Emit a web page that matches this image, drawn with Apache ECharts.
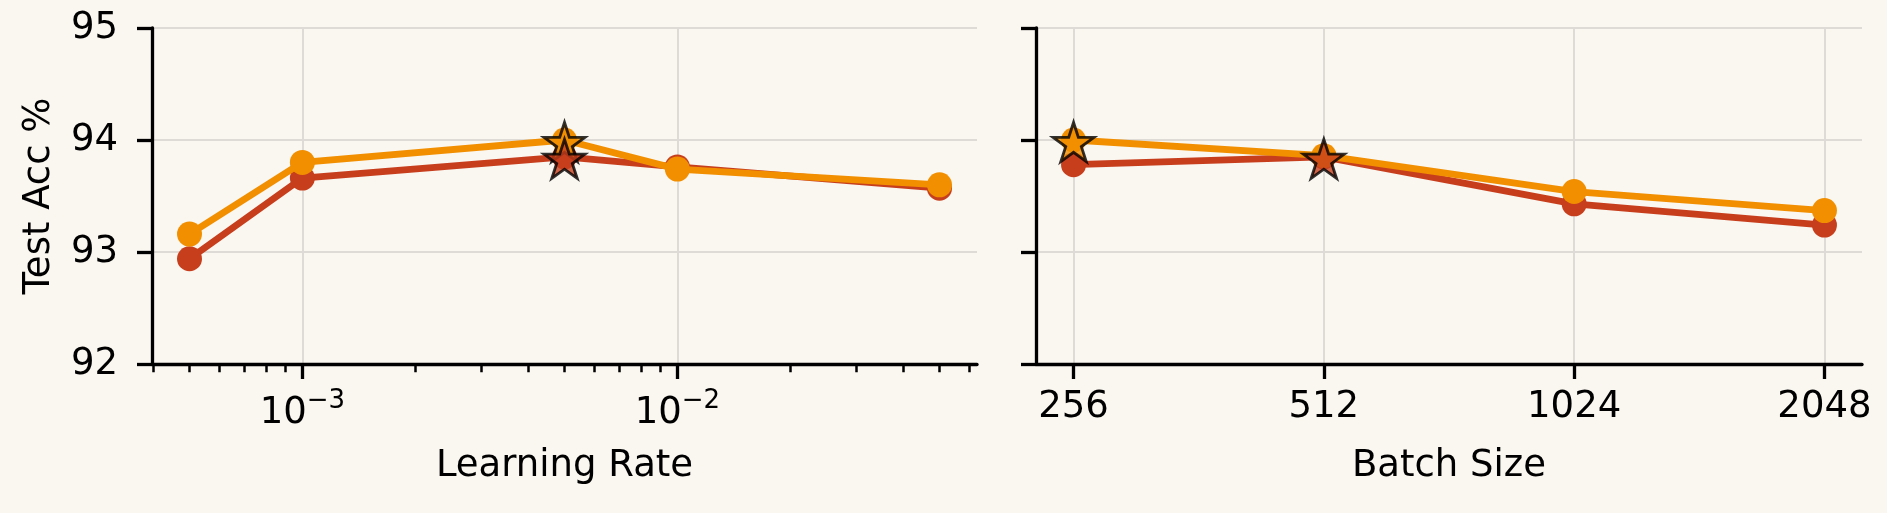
<!DOCTYPE html>
<html>
<head>
<meta charset="utf-8">
<script src="https://cdn.jsdelivr.net/npm/echarts@6/dist/echarts.min.js"></script>
<style>
  html, body { margin: 0; padding: 0; background: #faf6f0; }
  #chart { width: 1887px; height: 513px; }
</style>
</head>
<body>
<div id="chart"></div>
<script>
// learning-rate sweep
const lrValues = [5e-4, 1e-3, 5e-3, 1e-2, 5e-2]
const lrAccRed = [92.94, 93.66, 93.85, 93.76, 93.57]
const lrAccOrange = [93.16, 93.80, 94.00, 93.74, 93.60]
const lrMajorTicks = [1e-3, 1e-2]
const lrMinorTicks = [4e-4, 5e-4, 6e-4, 7e-4, 8e-4, 9e-4,
  2e-3, 3e-3, 4e-3, 5e-3, 6e-3, 7e-3, 8e-3, 9e-3,
  2e-2, 3e-2, 4e-2, 5e-2, 6e-2]

// batch-size sweep
const bsValues = [256, 512, 1024, 2048]
const bsAccRed = [93.78, 93.85, 93.43, 93.24]
const bsAccOrange = [94.00, 93.86, 93.54, 93.37]

const RED = '#c73e1d'
const ORANGE = '#f18f01'
const FONT = 'DejaVu Sans'

// matplotlib-like 5-point star
const starPath = (() => {
  const pts = []
  for (let i = 0; i < 10; i++) {
    const r = i % 2 === 0 ? 1 : 0.382
    const a = (-90 + i * 36) * Math.PI / 180
    pts.push((r * Math.cos(a)).toFixed(4) + ' ' + (r * Math.sin(a)).toFixed(4))
  }
  return 'path://M' + pts.join(' L') + ' Z'
})()

const log10 = v => Math.log10(v)
const log2 = v => Math.log2(v)

const lrPts = ys => lrValues.map((x, i) => [log10(x), ys[i]])
const bsPts = ys => bsValues.map((x, i) => [log2(x), ys[i]])
const bestOf = pts => {
  let best = 0
  pts.forEach((p, i) => { if (p[1] > pts[best][1]) best = i })
  return [pts[best]]
}

const lrMin = log10(lrValues[0]) - 0.1
const lrMax = log10(lrValues[lrValues.length - 1]) + 0.1
const bsMin = log2(bsValues[0]) - 0.15
const bsMax = log2(bsValues[bsValues.length - 1]) + 0.15

const gridTop = 28
const gridBottom = 513 - 364

const axisLine = { show: true, lineStyle: { color: '#000', width: 3.3 } }
const majorTick = { show: true, length: 15, lineStyle: { color: '#000', width: 3.3 } }
const splitLine = { show: true, lineStyle: { color: '#dedad5', width: 2 } }
const tickText = { color: '#000', fontFamily: FONT, fontSize: 37 }
const nameText = { color: '#000', fontFamily: FONT, fontSize: 37 }

const lineSeries = (name, data, color, xi, yi, z) => ({
  name, type: 'line', data, xAxisIndex: xi, yAxisIndex: yi, z,
  symbol: 'circle', symbolSize: 25,
  lineStyle: { color, width: 6.8 },
  itemStyle: { color },
  emphasis: { disabled: true }
})

const starSeries = (name, data, color, xi, yi, z) => ({
  name, type: 'scatter', data, xAxisIndex: xi, yAxisIndex: yi, z,
  symbol: starPath, symbolSize: [41, 39], symbolOffset: [0, 2],
  itemStyle: { color, borderColor: '#000', borderWidth: 2.8 },
  emphasis: { disabled: true }
})

const yAxisBase = gi => ({
  type: 'value', gridIndex: gi, min: 92, max: 95, interval: 1,
  axisLine, axisTick: majorTick, splitLine
})

const option = {
  backgroundColor: '#faf6f0',
  animation: false,
  grid: [
    { left: 152, right: 1887 - 977, top: gridTop, bottom: gridBottom },
    { left: 1036, right: 1887 - 1862, top: gridTop, bottom: gridBottom }
  ],
  xAxis: [
    {
      type: 'value', gridIndex: 0, position: 'bottom', min: lrMin, max: lrMax,
      name: 'Learning Rate', nameLocation: 'middle', nameGap: 84, nameTextStyle: nameText,
      axisLine,
      axisTick: { ...majorTick, customValues: lrMajorTicks.map(log10) },
      splitLine,
      axisLabel: {
        ...tickText, margin: 24,
        customValues: lrMajorTicks.map(log10),
        formatter: v => '{b|10}{s|\u2212' + Math.round(-v) + '}',
        rich: {
          b: { fontFamily: FONT, fontSize: 37, color: '#000', lineHeight: 44, verticalAlign: 'bottom' },
          s: { fontFamily: FONT, fontSize: 26, color: '#000', lineHeight: 24, verticalAlign: 'top' }
        }
      }
    },
    {
      // minor ticks of the log axis
      type: 'value', gridIndex: 0, position: 'bottom', offset: 0, min: lrMin, max: lrMax,
      axisLine: { show: false },
      axisTick: { show: true, length: 8.3, customValues: lrMinorTicks.map(log10), lineStyle: { color: '#000', width: 2.5 } },
      axisLabel: { show: false },
      splitLine: { show: false }
    },
    {
      type: 'value', gridIndex: 1, position: 'bottom', min: bsMin, max: bsMax,
      name: 'Batch Size', nameLocation: 'middle', nameGap: 84, nameTextStyle: nameText,
      axisLine,
      axisTick: { ...majorTick, customValues: bsValues.map(log2) },
      splitLine,
      axisLabel: {
        ...tickText, margin: 25,
        customValues: bsValues.map(log2),
        formatter: v => String(Math.round(Math.pow(2, v)))
      }
    }
  ],
  yAxis: [
    {
      ...yAxisBase(0),
      name: 'Test Acc %', nameLocation: 'middle', nameGap: 94, nameTextStyle: nameText,
      axisLabel: { ...tickText, margin: 34 }
    },
    {
      ...yAxisBase(1),
      axisLabel: { show: false }
    }
  ],
  series: [
    lineSeries('lr red', lrPts(lrAccRed), RED, 0, 0, 2),
    lineSeries('lr orange', lrPts(lrAccOrange), ORANGE, 0, 0, 3),
    starSeries('lr orange best', bestOf(lrPts(lrAccOrange)), ORANGE, 0, 0, 4),
    starSeries('lr red best', bestOf(lrPts(lrAccRed)), RED, 0, 0, 5),
    lineSeries('bs red', bsPts(bsAccRed), RED, 2, 1, 2),
    lineSeries('bs orange', bsPts(bsAccOrange), ORANGE, 2, 1, 3),
    starSeries('bs orange best', bestOf(bsPts(bsAccOrange)), ORANGE, 2, 1, 4),
    starSeries('bs red best', bestOf(bsPts(bsAccRed)), RED, 2, 1, 5)
  ]
}

const chart = echarts.init(document.getElementById('chart'), null, { renderer: 'canvas' })
chart.setOption(option)
window.addEventListener('resize', () => chart.resize())
</script>
</body>
</html>
